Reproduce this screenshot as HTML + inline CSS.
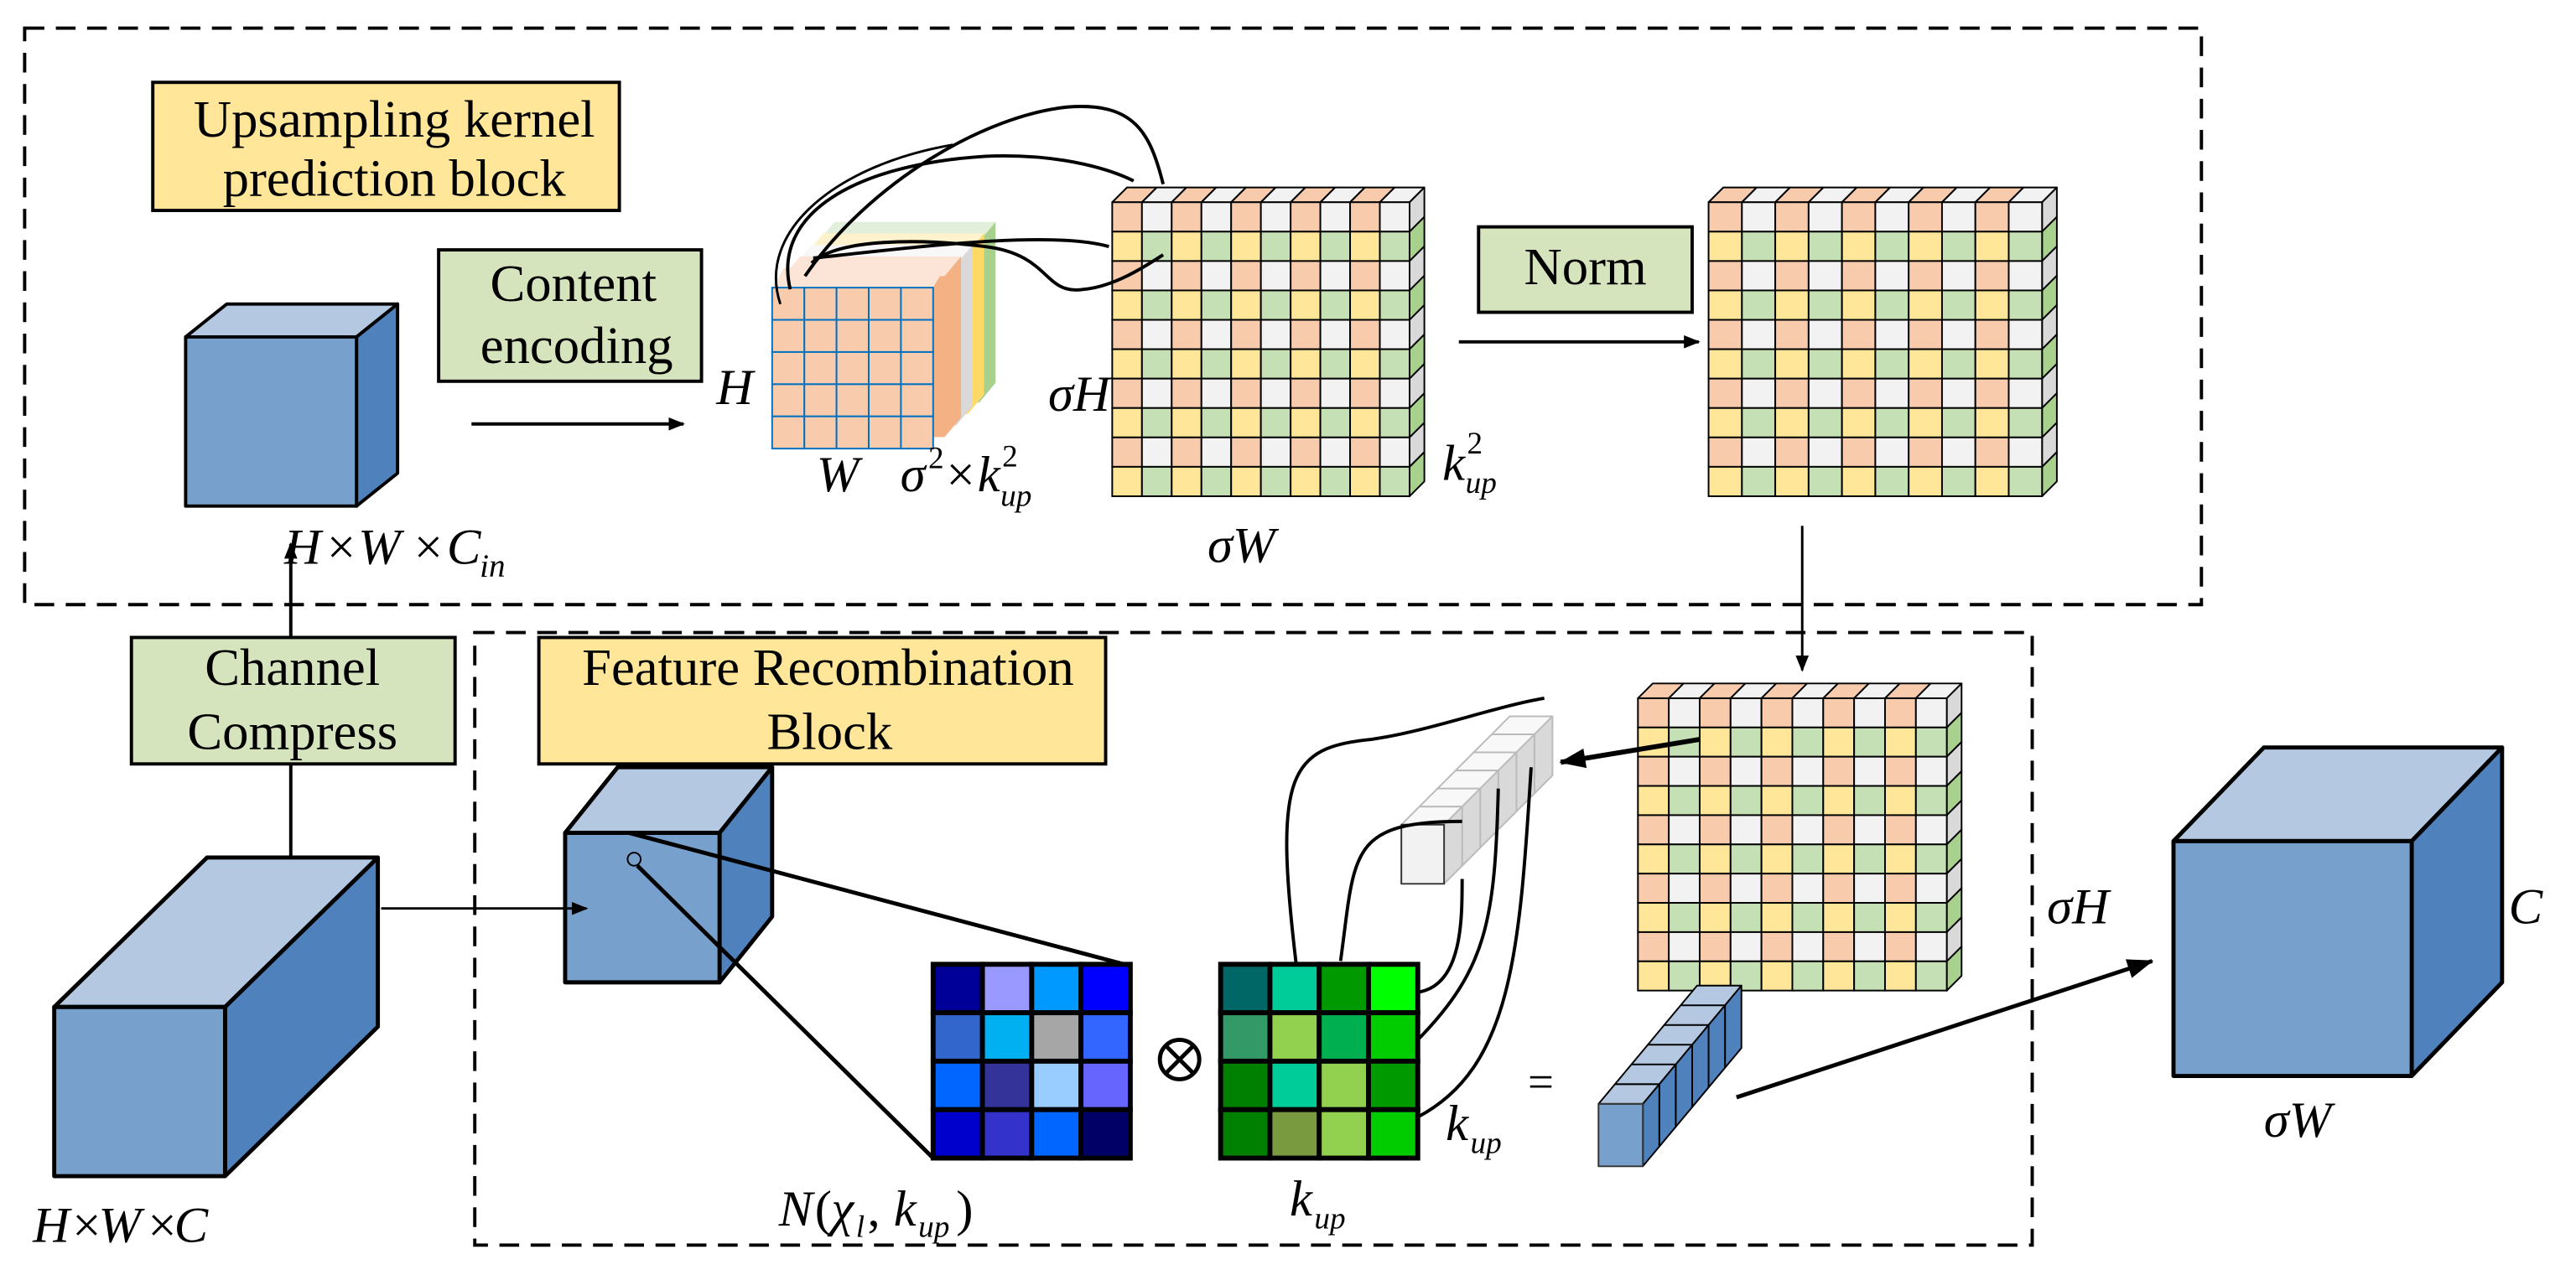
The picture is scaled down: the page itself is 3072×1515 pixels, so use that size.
<!DOCTYPE html>
<html><head><meta charset="utf-8"><style>
html,body{margin:0;padding:0;background:#fff;}
svg{display:block}
text{font-family:"Liberation Serif",serif;fill:#000}
.it{font-style:italic}
</style></head><body>
<svg id="s" width="3072" height="1515" viewBox="0 0 1568 773" xmlns="http://www.w3.org/2000/svg">
<defs>
<marker id="ah" markerWidth="10" markerHeight="8" refX="9" refY="4" orient="auto" markerUnits="userSpaceOnUse"><path d="M0,0 L10,4 L0,8 z" fill="#000"/></marker>
<marker id="ah2" markerWidth="16" markerHeight="12" refX="15" refY="6" orient="auto" markerUnits="userSpaceOnUse"><path d="M0,0 L16,6 L0,12 z" fill="#000"/></marker>
</defs>
<rect x="15" y="17" width="1325" height="351" fill="none" stroke="#000" stroke-width="2" stroke-dasharray="12,7"/>
<rect x="289" y="385" width="948" height="373" fill="none" stroke="#000" stroke-width="2" stroke-dasharray="12,7"/>

<rect x="93" y="50" width="284" height="78" fill="#FFE699" stroke="#000" stroke-width="2"/>
<text x="240" y="83" font-size="32" text-anchor="middle">Upsampling kernel</text>
<text x="240" y="119" font-size="32" text-anchor="middle">prediction block</text>
<rect x="267" y="152" width="160" height="80" fill="#D6E4BE" stroke="#000" stroke-width="2"/>
<text x="349" y="183" font-size="32" text-anchor="middle">Content</text>
<text x="351" y="221" font-size="32" text-anchor="middle">encoding</text>
<rect x="900" y="138" width="130" height="52" fill="#D6E4BE" stroke="#000" stroke-width="2"/>
<text x="965" y="173" font-size="32" text-anchor="middle">Norm</text>
<rect x="80" y="388" width="197" height="77" fill="#D6E4BE" stroke="#000" stroke-width="2"/>
<text x="178" y="417" font-size="32" text-anchor="middle">Channel</text>
<text x="178" y="456" font-size="32" text-anchor="middle">Compress</text>
<rect x="328" y="388" width="345" height="77" fill="#FFE699" stroke="#000" stroke-width="2"/>
<text x="504" y="417" font-size="32" text-anchor="middle">Feature Recombination</text>
<text x="505" y="456" font-size="32" text-anchor="middle">Block</text>

<g id="dyn"></g>

<line x1="287" y1="258" x2="416" y2="258" stroke="#000" stroke-width="2" marker-end="url(#ah)"/>
<line x1="888" y1="208" x2="1034" y2="208" stroke="#000" stroke-width="2" marker-end="url(#ah)"/>
<line x1="1097" y1="320" x2="1097" y2="408" stroke="#000" stroke-width="1.5" marker-end="url(#ah)"/>
<line x1="177" y1="465" x2="177" y2="522" stroke="#000" stroke-width="2"/>
<line x1="177" y1="388" x2="177" y2="331" stroke="#000" stroke-width="2" marker-end="url(#ah)"/>
<line x1="232" y1="553" x2="357" y2="553" stroke="#000" stroke-width="1.5" marker-end="url(#ah)"/>
<line x1="1035" y1="450" x2="950" y2="464" stroke="#000" stroke-width="3" marker-end="url(#ah2)"/>
<line x1="1057" y1="668" x2="1310" y2="585" stroke="#000" stroke-width="2.5" marker-end="url(#ah2)"/>

<text x="436" y="246" font-size="31" class="it">H</text>
<text x="497" y="299" font-size="31" class="it">W</text>
<text x="548" y="299" font-size="31" class="it">σ</text><text x="565" y="285" font-size="19">2</text><text x="576" y="299" font-size="31">×</text><text x="595" y="299" font-size="31" class="it">k</text><text x="610" y="284" font-size="19">2</text><text x="609" y="308" font-size="19" class="it">up</text>
<text x="638" y="250" font-size="31" class="it">σH</text>
<text x="878" y="292" font-size="31" class="it">k</text><text x="893" y="276" font-size="19">2</text><text x="892" y="300" font-size="19" class="it">up</text>
<text x="735" y="342" font-size="31" class="it">σW</text>
<text x="173" y="343" font-size="31" class="it">H</text><text x="199" y="343" font-size="31">×</text><text x="218" y="343" font-size="31" class="it">W</text><text x="252" y="343" font-size="31">×</text><text x="272" y="343" font-size="31" class="it">C</text><text x="292" y="351" font-size="20" class="it">in</text>
<text x="20" y="756" font-size="31" class="it">H</text><text x="44" y="756" font-size="31">×</text><text x="60" y="756" font-size="31" class="it">W</text><text x="90" y="756" font-size="31">×</text><text x="106" y="756" font-size="31" class="it">C</text>
<text x="474" y="746" font-size="31" class="it">N</text><text x="496" y="746" font-size="31">(</text><text x="506" y="746" font-size="31" class="it">χ</text><text x="521" y="753" font-size="19" class="it">l</text><text x="528" y="746" font-size="31">,</text><text x="544" y="746" font-size="31" class="it">k</text><text x="559" y="753" font-size="19" class="it">up</text><text x="582" y="746" font-size="31">)</text>
<text x="880" y="694" font-size="31" class="it">k</text><text x="895" y="702" font-size="19" class="it">up</text>
<text x="785" y="740" font-size="31" class="it">k</text><text x="800" y="748" font-size="19" class="it">up</text>
<text x="1246" y="562" font-size="31" class="it">σH</text>
<text x="1527" y="562" font-size="31" class="it">C</text>
<text x="1378" y="692" font-size="31" class="it">σW</text>
<text x="930" y="668" font-size="28">=</text>
<circle cx="718" cy="645" r="12" fill="none" stroke="#000" stroke-width="2.5"/>
<line x1="710" y1="637" x2="726" y2="653" stroke="#000" stroke-width="2.5"/>
<line x1="726" y1="637" x2="710" y2="653" stroke="#000" stroke-width="2.5"/>
</svg>
<script>
const NS="http://www.w3.org/2000/svg",g=document.getElementById('dyn');
function el(t,a){const e=document.createElementNS(NS,t);for(const k in a)e.setAttribute(k,a[k]);g.appendChild(e);return e;}
function poly(p,f,sw,st){return el('polygon',{points:p.map(q=>q.join(',')).join(' '),fill:f,stroke:st||'#000','stroke-width':sw||2,'stroke-linejoin':'round'});}
function cube(x,y,w,h,dx,dy,sw){
 poly([[x,y],[x+dx,y-dy],[x+w+dx,y-dy],[x+w,y]],'#B4C9E1',sw);
 poly([[x+w,y],[x+w+dx,y-dy],[x+w+dx,y+h-dy],[x+w,y+h]],'#4F81BD',sw);
 poly([[x,y],[x+w,y],[x+w,y+h],[x,y+h]],'#77A1CC',sw);
}
cube(113,205,104,103,25,20,2);
cube(33,613,104,103,93,91,2.5);
cube(344,507,94,91,32,40,2.5);
cube(1323,512,145,143,55,57,2.5);
function grid(x,y,w,h,n,m,d){
 const cw=w/n,ch=h/m;
 for(let i=0;i<n;i++){const c=i%2?'#F2F2F2':'#F8CBAD';poly([[x+i*cw,y],[x+i*cw+d,y-d],[x+(i+1)*cw+d,y-d],[x+(i+1)*cw,y]],c,1);}
 for(let j=0;j<m;j++){const c=j%2?'#A9D18E':'#D9D9D9';poly([[x+w,y+j*ch],[x+w+d,y+j*ch-d],[x+w+d,y+(j+1)*ch-d],[x+w,y+(j+1)*ch]],c,1);}
 for(let j=0;j<m;j++)for(let i=0;i<n;i++){
  const c=j%2?(i%2?'#C5E0B4':'#FFE699'):(i%2?'#F2F2F2':'#F8CBAD');
  el('rect',{x:x+i*cw,y:y+j*ch,width:cw,height:ch,fill:c,stroke:'#000','stroke-width':1});
 }
}
grid(677,123,181,179,10,10,9);
grid(1040,123,203,179,10,10,9);
grid(997,425,188,178,10,10,9);
const L=[['#E2EFDA','#A9D18E',28],['#FFF2CC','#FFD966',21],['#F8F8F8','#D9D9D9',14],['#FCE4D6','#F4B183',7]];
const tx=470,ty=175,tw=98,th=98;
L.forEach(([t,r,o])=>{
 poly([[tx+o,ty-o],[tx+o+10,ty-o-12],[tx+tw+o+10,ty-o-12],[tx+tw+o,ty-o]],t,0,'none');
 poly([[tx+tw+o,ty-o],[tx+tw+o+10,ty-o-12],[tx+tw+o+10,ty+th-o-12],[tx+tw+o,ty+th-o]],r,0,'none');
 poly([[tx+o,ty-o],[tx+tw+o,ty-o],[tx+tw+o,ty+th-o],[tx+o,ty+th-o]],r,0,'none');
});
poly([[tx,ty],[tx+7,ty-12],[tx+tw+7,ty-12],[tx+tw,ty]],'#FCE4D6',0,'none');
for(let j=0;j<5;j++)for(let i=0;i<5;i++)el('rect',{x:tx+i*tw/5,y:ty+j*th/5,width:tw/5,height:th/5,fill:'#F8CBAD',stroke:'#0070C0','stroke-width':1});
function kgrid(x,y,w,h,cols){const cw=w/4,ch=h/4;
 for(let j=0;j<4;j++)for(let i=0;i<4;i++)el('rect',{x:x+i*cw,y:y+j*ch,width:cw,height:ch,fill:cols[j][i],stroke:'#000','stroke-width':3});}
kgrid(568,587,120,118,[['#000099','#9999FF','#0099FF','#0000FF'],['#3366CC','#00B0F0','#A6A6A6','#3366FF'],['#0066FF','#333399','#99CCFF','#6666FF'],['#0000CC','#3333CC','#0066FF','#000066']]);
kgrid(743,587,120,118,[['#006666','#00CC99','#009900','#00FF00'],['#339966','#92D050','#00B050','#00CC00'],['#008000','#00CC99','#92D050','#009900'],['#008000','#7A9A40','#92D050','#00CC00']]);
el('circle',{cx:386,cy:523,r:4,fill:'none',stroke:'#000','stroke-width':1});
el('line',{x1:388,y1:527,x2:568,y2:705,stroke:'#000','stroke-width':2.5});
el('line',{x1:383,y1:507,x2:688,y2:588,stroke:'#000','stroke-width':2.5});
function stick(x,y,w,h,n,sx,sy,ft,tp,rt,st){
 for(let k=n-1;k>=0;k--){const X=x+k*sx,Y=y-k*sy;
  poly([[X,Y],[X+sx,Y-sy],[X+w+sx,Y-sy],[X+w,Y]],tp,1,st);
  poly([[X+w,Y],[X+w+sx,Y-sy],[X+w+sx,Y+h-sy],[X+w,Y+h]],rt,1,st);
 }
 poly([[x,y],[x+w,y],[x+w,y+h],[x,y+h]],ft,1,'#333');
}
stick(853,502,26,36,6,11,11,'#F2F2F2','#F8F8F8','#D9D9D9','#BBB');
stick(973,672,27,38,6,10,12,'#77A1CC','#B4C9E1','#4F81BD','#000');
function path(d,sw){el('path',{d:d,fill:'none',stroke:'#000','stroke-width':sw||2});}
path('M789,587 C775,470 785,455 835,450 C870,445 910,430 940,425',2);
path('M816,585 C825,520 820,500 890,500',2);
path('M863,604 C890,600 890,560 890,535',2);
path('M863,633 C905,590 910,560 912,480',2);
path('M863,680 C920,650 925,580 932,467',2);
path('M481,176 C470,130 520,100 600,95 C650,93 680,105 690,110',2);
path('M490,168 C530,110 600,70 650,65 C690,62 700,80 708,112',2);
path('M495,157 C560,150 640,140 675,150',2);
path('M494,160 C510,145 560,145 600,150 C640,155 635,180 660,176 C680,174 700,160 708,155',2);
path('M475,185 C460,140 510,100 580,88',1.5);
</script>
</body></html>
